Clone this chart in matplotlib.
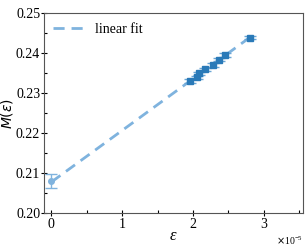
import numpy as np
import matplotlib
matplotlib.use("Agg")
import matplotlib.pyplot as plt

plt.rcParams['font.family'] = ['Liberation Serif', 'DejaVu Serif']
plt.rcParams['mathtext.fontset'] = 'dejavusans'

# data (epsilon in units of 1e-5)
eps = np.array([1.958, 2.05, 2.085, 2.17, 2.28, 2.36, 2.45, 2.80]) * 1e-5
M = np.array([0.2330, 0.2339, 0.2349, 0.2359, 0.2370, 0.2383, 0.2395, 0.2438])
M_err = np.array([0.0004, 0.0004, 0.0004, 0.0004, 0.0004, 0.0004, 0.0004, 0.0004])

# extrapolated value at eps = 0
eps0 = [0.0]
M0 = [0.2080]
M0_err = [0.0018]

dark = '#2a7ab8'
light = '#7fb3de'

fig = plt.figure(figsize=(3.05, 2.46), dpi=100)
ax = fig.add_axes([0.143, 0.134, 0.85, 0.813])

# linear fit
k, b = np.polyfit(eps, M, 1)
xs = np.array([0.0, eps.max()])
ax.plot(xs, k * xs + b, ls=(0, (4, 2.5)), color=light, lw=2, label='linear fit')

ax.errorbar(eps0, M0, yerr=M0_err, fmt='o', ms=4, color=light,
            ecolor=light, capsize=4, elinewidth=1)
ax.errorbar(eps, M, yerr=M_err, fmt='s', ms=4, color=dark,
            ecolor='#6aa6d6', capsize=4, elinewidth=1)

ax.set_xlim(-0.11e-5, 3.55e-5)
ax.set_ylim(0.20, 0.25)
ax.set_xticks([0, 1e-5, 2e-5, 3e-5])
ax.set_yticks([0.20, 0.21, 0.22, 0.23, 0.24, 0.25])
ax.ticklabel_format(axis='x', style='sci', scilimits=(0, 0), useMathText=True)
ax.xaxis.get_offset_text().set_fontsize(7)
ax.minorticks_on()
ax.xaxis.set_minor_locator(matplotlib.ticker.MultipleLocator(0.5e-5))
ax.yaxis.set_minor_locator(matplotlib.ticker.MultipleLocator(0.005))
ax.tick_params(which='major', direction='inout', length=5, width=0.8, labelsize=10, pad=0)
ax.tick_params(which='minor', direction='in', length=2.5, width=0.8)
ax.set_yticklabels(['0.20', '0.21', '0.22', '0.23', '0.24', '0.25'])

for s in ax.spines.values():
    s.set_color('#555555')
    s.set_linewidth(0.8)

ax.set_xlabel('ε', fontsize=12, style='italic', labelpad=-2)
ax.set_ylabel(r'$M(\varepsilon)$', fontsize=10, labelpad=1)

ax.legend(loc='upper left', frameon=False, fontsize=10, handlelength=2.2,
          borderaxespad=0.3)

fig.savefig('out.png', dpi=100)
